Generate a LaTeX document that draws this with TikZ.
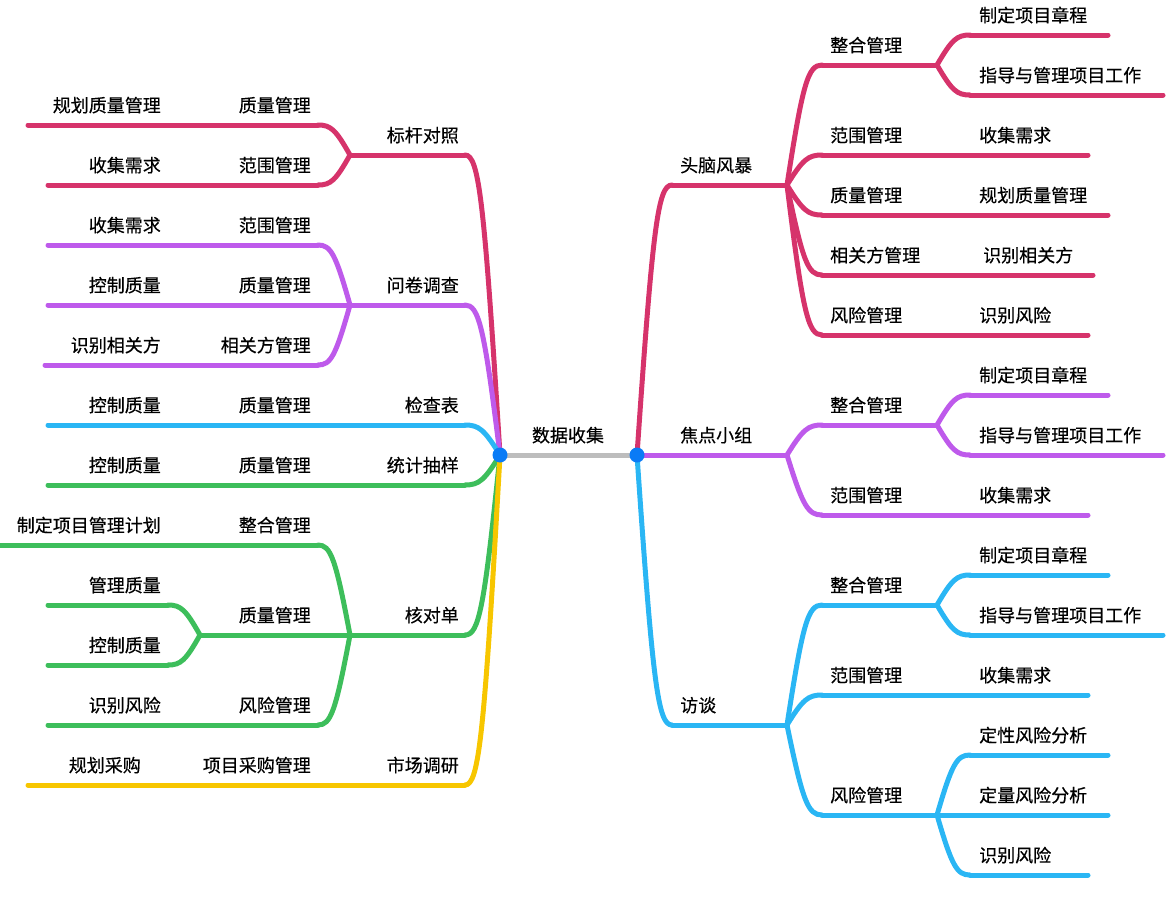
\documentclass[tikz,border=0pt]{standalone}
\usepackage{fontspec}
\setmainfont{Noto Sans CJK SC}[UprightFeatures={FakeBold=0.4}]
\usepackage{tikz}
\usetikzlibrary{calc}
\definecolor{crim}{HTML}{D6336B}
\definecolor{purp}{HTML}{BE5AEB}
\definecolor{sky}{HTML}{2AB6F4}
\definecolor{leaf}{HTML}{3DBE5B}
\definecolor{gold}{HTML}{F7C600}
\definecolor{stem}{HTML}{BDBDBD}
\definecolor{dotc}{HTML}{0A7BF6}

\begin{document}
\begin{tikzpicture}[x=1pt,y=-1pt,
		br/.style={to path={let \p1=(\tikztostart), \p2=(\tikztotarget) in
			.. controls ({\x1+0.45*(\x2-\x1)},{\y1+0.85*(\y2-\y1)}) and ({\x1+0.6*(\x2-\x1)},\y2) .. (\tikztotarget) \tikztonodes}},
		every edge/.style={draw,line width=5pt,line cap=round},
		every node/.style={font=\fontsize{18}{22}\selectfont,text=black},
		rt/.style={anchor=base west,inner sep=0pt,yshift=2pt},
		lt/.style={anchor=base east,inner sep=0pt,yshift=2pt},
		dot/.style={circle,fill=dotc,inner sep=0pt,minimum size=15pt}]
		\useasboundingbox (0,0) rectangle (1175,903);

		\coordinate (L) at (500,455);
		\coordinate (R) at (637,455);
		\node[anchor=base,yshift=2pt] (root) at (568,444) {数据收集};
		\path[stem] (L) edge (R);

		% right
		\begin{scope}[crim]
			\coordinate (bs-s) at (672,185); \coordinate (bs-e) at (787,185);
			\node[rt] (bs) at (680,174) {头脑风暴};
			\coordinate (bs1-s) at (822,65); \coordinate (bs1-e) at (937,65);
			\node[rt] (bs1) at (830,54) {整合管理};
			\coordinate (bs11-s) at (970,35); \coordinate (bs11-e) at (1108,35);
			\node[rt] (bs11) at (979,24) {制定项目章程};
			\coordinate (bs12-s) at (970,95); \coordinate (bs12-e) at (1163,95);
			\node[rt] (bs12) at (979,84) {指导与管理项目工作};
			\coordinate (bs2-s) at (822,155); \coordinate (bs2-e) at (937,155);
			\node[rt] (bs2) at (830,144) {范围管理};
			\coordinate (bs21-s) at (970,155); \coordinate (bs21-e) at (1088,155);
			\node[rt] (bs21) at (979,144) {收集需求};
			\coordinate (bs3-s) at (822,215); \coordinate (bs3-e) at (937,215);
			\node[rt] (bs3) at (830,204) {质量管理};
			\coordinate (bs31-s) at (970,215); \coordinate (bs31-e) at (1108,215);
			\node[rt] (bs31) at (979,204) {规划质量管理};
			\coordinate (bs4-s) at (822,275); \coordinate (bs4-e) at (937,275);
			\node[rt] (bs4) at (830,264) {相关方管理};
			\coordinate (bs41-s) at (975,275); \coordinate (bs41-e) at (1093,275);
			\node[rt] (bs41) at (983,264) {识别相关方};
			\coordinate (bs5-s) at (822,335); \coordinate (bs5-e) at (937,335);
			\node[rt] (bs5) at (830,324) {风险管理};
			\coordinate (bs51-s) at (970,335); \coordinate (bs51-e) at (1088,335);
			\node[rt] (bs51) at (979,324) {识别风险};

			\path (R) edge[br] (bs-s) (bs-s) edge (bs-e)
				(bs-e) edge[br] (bs1-s) (bs1-s) edge (bs1-e)
				(bs1-e) edge[br] (bs11-s) (bs11-s) edge (bs11-e)
				(bs1-e) edge[br] (bs12-s) (bs12-s) edge (bs12-e)
				(bs-e) edge[br] (bs2-s) (bs2-s) edge (bs2-e)
				(bs2-e) edge (bs21-s) (bs21-s) edge (bs21-e)
				(bs-e) edge[br] (bs3-s) (bs3-s) edge (bs3-e)
				(bs3-e) edge (bs31-s) (bs31-s) edge (bs31-e)
				(bs-e) edge[br] (bs4-s) (bs4-s) edge (bs4-e)
				(bs4-e) edge (bs41-s) (bs41-s) edge (bs41-e)
				(bs-e) edge[br] (bs5-s) (bs5-s) edge (bs5-e)
				(bs5-e) edge (bs51-s) (bs51-s) edge (bs51-e);
		\end{scope}

		\begin{scope}[purp]
			\coordinate (fg-s) at (672,455); \coordinate (fg-e) at (787,455);
			\node[rt] (fg) at (680,444) {焦点小组};
			\coordinate (fg1-s) at (822,425); \coordinate (fg1-e) at (937,425);
			\node[rt] (fg1) at (830,414) {整合管理};
			\coordinate (fg11-s) at (970,395); \coordinate (fg11-e) at (1108,395);
			\node[rt] (fg11) at (979,384) {制定项目章程};
			\coordinate (fg12-s) at (970,455); \coordinate (fg12-e) at (1163,455);
			\node[rt] (fg12) at (979,444) {指导与管理项目工作};
			\coordinate (fg2-s) at (822,515); \coordinate (fg2-e) at (937,515);
			\node[rt] (fg2) at (830,504) {范围管理};
			\coordinate (fg21-s) at (970,515); \coordinate (fg21-e) at (1088,515);
			\node[rt] (fg21) at (979,504) {收集需求};

			\path (R) edge (fg-s) (fg-s) edge (fg-e)
				(fg-e) edge[br] (fg1-s) (fg1-s) edge (fg1-e)
				(fg1-e) edge[br] (fg11-s) (fg11-s) edge (fg11-e)
				(fg1-e) edge[br] (fg12-s) (fg12-s) edge (fg12-e)
				(fg-e) edge[br] (fg2-s) (fg2-s) edge (fg2-e)
				(fg2-e) edge (fg21-s) (fg21-s) edge (fg21-e);
		\end{scope}

		\begin{scope}[sky]
			\coordinate (it-s) at (672,725); \coordinate (it-e) at (787,725);
			\node[rt] (it) at (680,714) {访谈};
			\coordinate (it1-s) at (822,605); \coordinate (it1-e) at (937,605);
			\node[rt] (it1) at (830,594) {整合管理};
			\coordinate (it11-s) at (970,575); \coordinate (it11-e) at (1108,575);
			\node[rt] (it11) at (979,564) {制定项目章程};
			\coordinate (it12-s) at (970,635); \coordinate (it12-e) at (1163,635);
			\node[rt] (it12) at (979,624) {指导与管理项目工作};
			\coordinate (it2-s) at (822,695); \coordinate (it2-e) at (937,695);
			\node[rt] (it2) at (830,684) {范围管理};
			\coordinate (it21-s) at (970,695); \coordinate (it21-e) at (1088,695);
			\node[rt] (it21) at (979,684) {收集需求};
			\coordinate (it3-s) at (822,815); \coordinate (it3-e) at (937,815);
			\node[rt] (it3) at (830,804) {风险管理};
			\coordinate (it31-s) at (970,755); \coordinate (it31-e) at (1108,755);
			\node[rt] (it31) at (979,744) {定性风险分析};
			\coordinate (it32-s) at (970,815); \coordinate (it32-e) at (1108,815);
			\node[rt] (it32) at (979,804) {定量风险分析};
			\coordinate (it33-s) at (970,875); \coordinate (it33-e) at (1088,875);
			\node[rt] (it33) at (979,864) {识别风险};

			\path (R) edge[br] (it-s) (it-s) edge (it-e)
				(it-e) edge[br] (it1-s) (it1-s) edge (it1-e)
				(it1-e) edge[br] (it11-s) (it11-s) edge (it11-e)
				(it1-e) edge[br] (it12-s) (it12-s) edge (it12-e)
				(it-e) edge[br] (it2-s) (it2-s) edge (it2-e)
				(it2-e) edge (it21-s) (it21-s) edge (it21-e)
				(it-e) edge[br] (it3-s) (it3-s) edge (it3-e)
				(it3-e) edge[br] (it31-s) (it31-s) edge (it31-e)
				(it3-e) edge (it32-s) (it32-s) edge (it32-e)
				(it3-e) edge[br] (it33-s) (it33-s) edge (it33-e);
		\end{scope}

		% left
		\begin{scope}[crim]
			\coordinate (bm-s) at (465,155); \coordinate (bm-e) at (350,155);
			\node[lt] (bm) at (459,144) {标杆对照};
			\coordinate (bm1-s) at (318,125); \coordinate (bm1-e) at (200,125);
			\node[lt] (bm1) at (311,114) {质量管理};
			\coordinate (bm11-s) at (168,125); \coordinate (bm11-e) at (28,125);
			\node[lt] (bm11) at (161,114) {规划质量管理};
			\coordinate (bm2-s) at (318,185); \coordinate (bm2-e) at (200,185);
			\node[lt] (bm2) at (311,174) {范围管理};
			\coordinate (bm21-s) at (168,185); \coordinate (bm21-e) at (48,185);
			\node[lt] (bm21) at (161,174) {收集需求};

			\path (L) edge[br] (bm-s) (bm-s) edge (bm-e)
				(bm-e) edge[br] (bm1-s) (bm1-s) edge (bm1-e)
				(bm1-e) edge (bm11-s) (bm11-s) edge (bm11-e)
				(bm-e) edge[br] (bm2-s) (bm2-s) edge (bm2-e)
				(bm2-e) edge (bm21-s) (bm21-s) edge (bm21-e);
		\end{scope}

		\begin{scope}[purp]
			\coordinate (qs-s) at (465,305); \coordinate (qs-e) at (350,305);
			\node[lt] (qs) at (459,294) {问卷调查};
			\coordinate (qs1-s) at (318,245); \coordinate (qs1-e) at (200,245);
			\node[lt] (qs1) at (311,234) {范围管理};
			\coordinate (qs11-s) at (168,245); \coordinate (qs11-e) at (48,245);
			\node[lt] (qs11) at (161,234) {收集需求};
			\coordinate (qs2-s) at (318,305); \coordinate (qs2-e) at (200,305);
			\node[lt] (qs2) at (311,294) {质量管理};
			\coordinate (qs21-s) at (168,305); \coordinate (qs21-e) at (48,305);
			\node[lt] (qs21) at (161,294) {控制质量};
			\coordinate (qs3-s) at (318,365); \coordinate (qs3-e) at (200,365);
			\node[lt] (qs3) at (311,354) {相关方管理};
			\coordinate (qs31-s) at (168,365); \coordinate (qs31-e) at (45,365);
			\node[lt] (qs31) at (161,354) {识别相关方};

			\path (L) edge[br] (qs-s) (qs-s) edge (qs-e)
				(qs-e) edge[br] (qs1-s) (qs1-s) edge (qs1-e)
				(qs1-e) edge (qs11-s) (qs11-s) edge (qs11-e)
				(qs-e) edge (qs2-s) (qs2-s) edge (qs2-e)
				(qs2-e) edge (qs21-s) (qs21-s) edge (qs21-e)
				(qs-e) edge[br] (qs3-s) (qs3-s) edge (qs3-e)
				(qs3-e) edge (qs31-s) (qs31-s) edge (qs31-e);
		\end{scope}

		\begin{scope}[sky]
			\coordinate (ck-s) at (465,425); \coordinate (ck-e) at (350,425);
			\node[lt] (ck) at (459,414) {检查表};
			\coordinate (ck1-s) at (318,425); \coordinate (ck1-e) at (200,425);
			\node[lt] (ck1) at (311,414) {质量管理};
			\coordinate (ck11-s) at (168,425); \coordinate (ck11-e) at (48,425);
			\node[lt] (ck11) at (161,414) {控制质量};

			\path (L) edge[br] (ck-s) (ck-s) edge (ck-e)
				(ck-e) edge (ck1-s) (ck1-s) edge (ck1-e)
				(ck1-e) edge (ck11-s) (ck11-s) edge (ck11-e);
		\end{scope}

		\begin{scope}[leaf]
			\coordinate (ss-s) at (465,485); \coordinate (ss-e) at (350,485);
			\node[lt] (ss) at (459,474) {统计抽样};
			\coordinate (ss1-s) at (318,485); \coordinate (ss1-e) at (200,485);
			\node[lt] (ss1) at (311,474) {质量管理};
			\coordinate (ss11-s) at (168,485); \coordinate (ss11-e) at (48,485);
			\node[lt] (ss11) at (161,474) {控制质量};
			\coordinate (cl-s) at (465,635); \coordinate (cl-e) at (350,635);
			\node[lt] (cl) at (459,624) {核对单};
			\coordinate (cl1-s) at (318,545); \coordinate (cl1-e) at (200,545);
			\node[lt] (cl1) at (311,534) {整合管理};
			\coordinate (cl11-s) at (168,545); \coordinate (cl11-e) at (-5,545);
			\node[lt] (cl11) at (161,534) {制定项目管理计划};
			\coordinate (cl2-s) at (318,635); \coordinate (cl2-e) at (200,635);
			\node[lt] (cl2) at (311,624) {质量管理};
			\coordinate (cl21-s) at (168,605); \coordinate (cl21-e) at (48,605);
			\node[lt] (cl21) at (161,594) {管理质量};
			\coordinate (cl22-s) at (168,665); \coordinate (cl22-e) at (48,665);
			\node[lt] (cl22) at (161,654) {控制质量};
			\coordinate (cl3-s) at (318,725); \coordinate (cl3-e) at (200,725);
			\node[lt] (cl3) at (311,714) {风险管理};
			\coordinate (cl31-s) at (168,725); \coordinate (cl31-e) at (48,725);
			\node[lt] (cl31) at (161,714) {识别风险};

			\path (L) edge[br] (ss-s) (ss-s) edge (ss-e)
				(ss-e) edge (ss1-s) (ss1-s) edge (ss1-e)
				(ss1-e) edge (ss11-s) (ss11-s) edge (ss11-e)
				(L) edge[br] (cl-s) (cl-s) edge (cl-e)
				(cl-e) edge[br] (cl1-s) (cl1-s) edge (cl1-e)
				(cl1-e) edge (cl11-s) (cl11-s) edge (cl11-e)
				(cl-e) edge (cl2-s) (cl2-s) edge (cl2-e)
				(cl2-e) edge[br] (cl21-s) (cl21-s) edge (cl21-e)
				(cl2-e) edge[br] (cl22-s) (cl22-s) edge (cl22-e)
				(cl-e) edge[br] (cl3-s) (cl3-s) edge (cl3-e)
				(cl3-e) edge (cl31-s) (cl31-s) edge (cl31-e);
		\end{scope}

		\begin{scope}[gold]
			\coordinate (mr-s) at (465,785); \coordinate (mr-e) at (350,785);
			\node[lt] (mr) at (459,774) {市场调研};
			\coordinate (mr1-s) at (318,785); \coordinate (mr1-e) at (180,785);
			\node[lt] (mr1) at (311,774) {项目采购管理};
			\coordinate (mr11-s) at (148,785); \coordinate (mr11-e) at (28,785);
			\node[lt] (mr11) at (141,774) {规划采购};

			\path (L) edge[br] (mr-s) (mr-s) edge (mr-e)
				(mr-e) edge (mr1-s) (mr1-s) edge (mr1-e)
				(mr1-e) edge (mr11-s) (mr11-s) edge (mr11-e);
		\end{scope}

		\node[dot] (Ldot) at (L) {};
		\node[dot] (Rdot) at (R) {};
	\end{tikzpicture}
\end{document}
